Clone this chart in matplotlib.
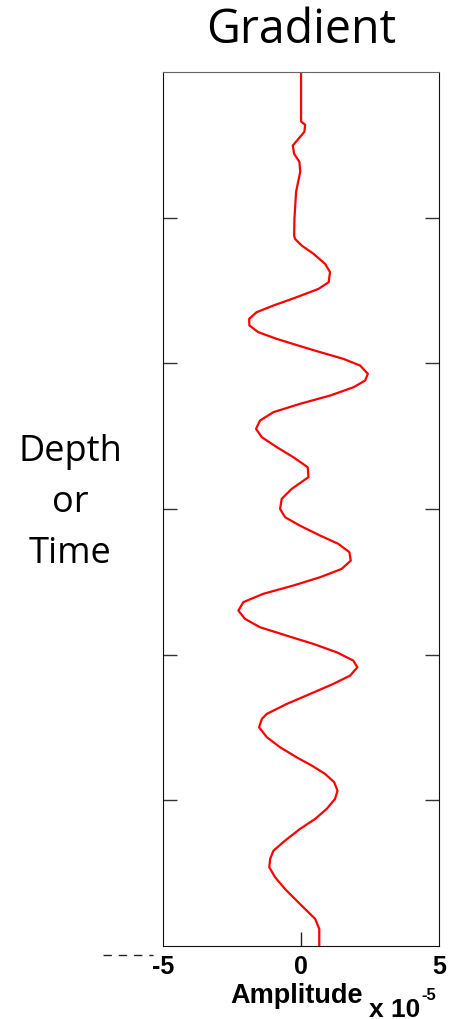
import matplotlib.pyplot as plt
from matplotlib.lines import Line2D

# gradient trace, amplitude in units of 1e-5 against depth (arbitrary units, 0 at top)
depth = [0.0, 0.341, 0.364, 0.412, 0.506, 0.563, 0.618, 0.686, 0.824, 1.009,
         1.124, 1.146, 1.192, 1.249, 1.318, 1.375, 1.444, 1.490, 1.547, 1.604,
         1.650, 1.696, 1.741, 1.787, 1.833, 1.879, 1.924, 1.970, 2.016, 2.073,
         2.119, 2.165, 2.222, 2.279, 2.336, 2.394, 2.451, 2.508, 2.576, 2.645,
         2.714, 2.782, 2.863, 2.931, 3.000, 3.057, 3.115, 3.183, 3.240, 3.297,
         3.355, 3.412, 3.469, 3.526, 3.583, 3.640, 3.698, 3.755, 3.812, 3.870,
         3.927, 3.984, 4.041, 4.087, 4.144, 4.201, 4.270, 4.339, 4.407, 4.442,
         4.499, 4.567, 4.636, 4.705, 4.762, 4.819, 4.876, 4.934, 4.991, 5.059,
         5.128, 5.197, 5.277, 5.346, 5.403, 5.460, 5.528, 5.609, 5.689, 5.758,
         5.814, 5.883, 6.0]
amplitude = [0.0, 0.0, 0.15, 0.12, -0.30, -0.25, -0.06, -0.03, -0.18, -0.24,
             -0.25, -0.22, 0.02, 0.45, 0.87, 1.05, 1.00, 0.63, -0.16, -1.00,
             -1.61, -1.88, -1.87, -1.55, -0.88, -0.10, 0.69, 1.53, 2.14, 2.42,
             2.32, 1.90, 1.05, -0.04, -1.00, -1.49, -1.63, -1.42, -0.88, -0.28,
             0.24, 0.27, -0.34, -0.70, -0.76, -0.58, -0.04, 0.69, 1.35, 1.75,
             1.80, 1.47, 0.69, -0.28, -1.37, -2.09, -2.27, -2.03, -1.49, -0.52,
             0.45, 1.29, 1.89, 2.04, 1.78, 1.17, 0.33, -0.52, -1.24, -1.42,
             -1.52, -1.24, -0.76, -0.16, 0.39, 0.87, 1.20, 1.32, 1.23, 0.93,
             0.51, -0.04, -0.58, -1.00, -1.12, -1.15, -0.94, -0.58, -0.16, 0.21,
             0.51, 0.66, 0.66]

x_ticks = [-5, 0, 5]
depth_ticks = [1, 2, 3, 4, 5]

fig = plt.figure(figsize=(4.49, 10.2), dpi=100)
ax = fig.add_axes([0.363, 0.0716, 0.615, 0.857])

ax.plot(amplitude, depth, color='#ff0000', lw=1.6, solid_joinstyle='round')

ax.set_xlim(-5, 5)
ax.set_ylim(6, 0)

# depth ticks on both sides, no labels
ax.set_yticks(depth_ticks)
ax.tick_params(axis='y', direction='in', length=10, width=1, left=True, right=True,
               labelleft=False, color='#333333')
# x labels sit under the axis, only the zero tick is drawn
ax.set_xticks(x_ticks)
ax.set_xticklabels([str(v) for v in x_ticks], fontsize=18, fontweight='bold',
                   family='Liberation Sans')
ax.tick_params(axis='x', direction='in', length=10, width=1, pad=6, color='#222222')
for t in ax.xaxis.get_major_ticks():
    if t.get_loc() != 0:
        t.tick1line.set_visible(False)

for side in ['left', 'right', 'bottom']:
    ax.spines[side].set_color('#111111')
ax.spines['top'].set_color('#666666')

fig.text(301 / 449, 1 - 30 / 1020, 'Gradient', ha='center', va='center',
         fontsize=33.5, family='Open Sans')
fig.text(70 / 449, 1 - 503 / 1020, 'Depth\nor\nTime', ha='center', va='center',
         fontsize=26, family='Open Sans', linespacing=1.55)

fig.text(297 / 449, 1 - 1003 / 1020, 'Amplitude', ha='center', va='baseline',
         fontsize=19.5, fontweight='bold', family='Liberation Sans')
fig.text(369 / 449, 1 - 1017 / 1020, 'x 10', ha='left', va='baseline',
         fontsize=19, fontweight='bold', family='Liberation Sans')
fig.text(421 / 449, 1 - 1000 / 1020, '-5', ha='left', va='baseline',
         fontsize=12, fontweight='bold', family='Liberation Sans')

# stray dashed mark at the lower left
fig.add_artist(Line2D([103 / 449, 153 / 449], [1 - 956 / 1020] * 2,
                      transform=fig.transFigure, color='#222222', lw=1,
                      dashes=(6, 5)))

fig.savefig('out.png', dpi=100)
